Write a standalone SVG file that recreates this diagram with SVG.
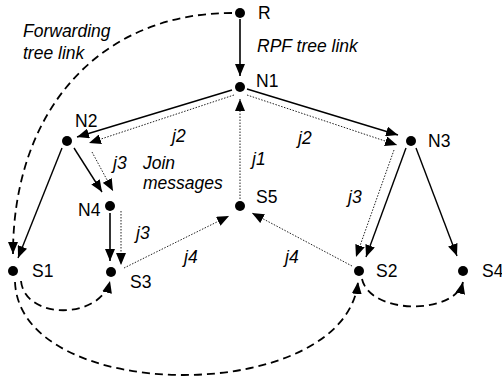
<svg xmlns="http://www.w3.org/2000/svg" width="502" height="381" viewBox="0 0 502 381">
  <style>
    text { font-family: "Liberation Sans", Arial, sans-serif; font-size: 17.5px; fill: #000; }
    .it { font-style: italic; }
    .dot { fill: #000; }
    .solid { fill: none; stroke: #000; stroke-width: 1.4; }
    .thick { fill: none; stroke: #000; stroke-width: 1.6; }
    .dotted { fill: none; stroke: #222; stroke-width: 1; stroke-dasharray: 1.5 1.5; }
    .dashed { fill: none; stroke: #000; stroke-width: 1.8; stroke-dasharray: 8 5; }
  </style>
  <defs>
    <marker id="arrow" viewBox="0 0 12 10" refX="12" refY="5" markerWidth="12" markerHeight="10" orient="auto" markerUnits="userSpaceOnUse">
      <path d="M0,0 L12,5 L0,10 z" fill="#000"/>
    </marker>
  </defs>

  <rect width="502" height="381" fill="#fff"/>

  <!-- connectors -->
  <g id="connectors">
    <!-- RPF tree links (solid) -->
    <path class="thick" d="M240,19 L240,76" marker-end="url(#arrow)"/>
    <path class="solid" d="M232,90 L77,137" marker-end="url(#arrow)"/>
    <path class="solid" d="M247,89 L398,135" marker-end="url(#arrow)"/>
    <path class="solid" d="M62,148 L18,258" marker-end="url(#arrow)"/>
    <path class="solid" d="M74,148 L102,192" marker-end="url(#arrow)"/>
    <path class="thick" d="M110,213 L110,261" marker-end="url(#arrow)"/>
    <path class="solid" d="M406,148 L366,257" marker-end="url(#arrow)"/>
    <path class="solid" d="M416,148 L457,256" marker-end="url(#arrow)"/>

    <!-- join messages (dotted) -->
    <path class="dotted" d="M234,95 L89,143" marker-end="url(#arrow)"/>
    <path class="dotted" d="M247,95 L397,145" marker-end="url(#arrow)"/>
    <path class="dotted" d="M240,199 L240,99" marker-end="url(#arrow)"/>
    <path class="dotted" d="M92,152 L113,191" marker-end="url(#arrow)"/>
    <path class="dotted" d="M121,211 L121,265" marker-end="url(#arrow)"/>
    <path class="dotted" d="M124,268 L229,216" marker-end="url(#arrow)"/>
    <path class="dotted" d="M352,266 L252,213" marker-end="url(#arrow)"/>
    <path class="dotted" d="M394,150 L356,257" marker-end="url(#arrow)"/>

    <!-- forwarding tree links (dashed) -->
    <path class="dashed" d="M232,13 C100,13 13,110 13,254" marker-end="url(#arrow)"/>
    <path class="dashed" d="M21,281 C25,320 100,320 110,281" marker-end="url(#arrow)"/>
    <path class="dashed" d="M15,282 C20,406 345,406 358,282" marker-end="url(#arrow)"/>
    <path class="dashed" d="M362,279 C370,315 455,315 463,282" marker-end="url(#arrow)"/>
  </g>

  <!-- nodes -->
  <g id="R"><circle class="dot" cx="240" cy="13" r="5"/><text x="258" y="19">R</text></g>
  <g id="N1"><circle class="dot" cx="240" cy="87" r="5"/><text x="256" y="87">N1</text></g>
  <g id="N2"><circle class="dot" cx="67" cy="141" r="5"/><text x="75" y="127">N2</text></g>
  <g id="N3"><circle class="dot" cx="411" cy="141" r="5"/><text x="428" y="147">N3</text></g>
  <g id="N4"><circle class="dot" cx="110" cy="206" r="5"/><text x="78" y="216">N4</text></g>
  <g id="S5"><circle class="dot" cx="240" cy="206" r="5"/><text x="256" y="203">S5</text></g>
  <g id="S1"><circle class="dot" cx="13" cy="271" r="5"/><text x="32" y="277">S1</text></g>
  <g id="S3"><circle class="dot" cx="111" cy="272" r="5"/><text x="130" y="288">S3</text></g>
  <g id="S2"><circle class="dot" cx="359" cy="271" r="5"/><text x="376" y="277">S2</text></g>
  <g id="S4"><circle class="dot" cx="463" cy="271" r="5"/><text x="482" y="277">S4</text></g>

  <!-- annotations -->
  <g id="labels">
    <text class="it" x="23" y="37">Forwarding</text>
    <text class="it" x="23" y="59">tree link</text>
    <text class="it" x="257" y="52">RPF tree link</text>
    <text class="it" x="143" y="169">Join</text>
    <text class="it" x="143" y="189">messages</text>
    <text class="it" x="172" y="142">j2</text>
    <text class="it" x="298" y="144">j2</text>
    <text class="it" x="252" y="165">j1</text>
    <text class="it" x="113" y="169">j3</text>
    <text class="it" x="136" y="239">j3</text>
    <text class="it" x="348" y="203">j3</text>
    <text class="it" x="184" y="263">j4</text>
    <text class="it" x="285" y="263">j4</text>
  </g>
</svg>
